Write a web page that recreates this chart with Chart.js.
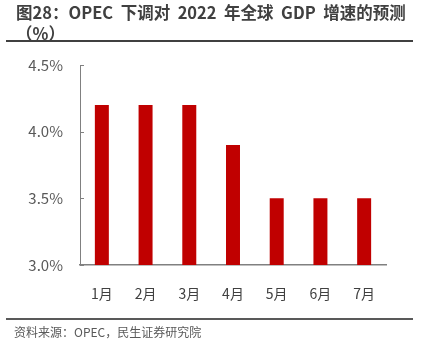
<!DOCTYPE html>
<html>
<head>
<meta charset="utf-8">
<script src="https://cdn.jsdelivr.net/npm/chart.js@4/dist/chart.umd.min.js"></script>
<style>
  body { margin: 0; background: #fff; }
  #wrap { position: relative; width: 421px; height: 353px; overflow: hidden; }
  #title { position: absolute; left: 16px; top: 2px; font: bold 16.5px "Noto Sans CJK SC", sans-serif; color: #404040; line-height: 21px; white-space: pre; }
  #rule1 { position: absolute; left: 6px; top: 40px; width: 407px; height: 2px; background: #404040; }
  #rule2 { position: absolute; left: 6px; top: 318px; width: 407px; height: 2px; background: #595959; }
  #source { position: absolute; left: 14px; top: 323px; font: 12px "Noto Sans CJK SC", sans-serif; color: #595959; }
  canvas { position: absolute; left: 0; top: 0; }
</style>
</head>
<body>
<div id="wrap">
  <canvas id="gdpChart" width="421" height="353"></canvas>
  <div id="title">图28：OPEC  下调对  2022  年全球  GDP  增速的预测
（%）</div>
  <div id="rule1"></div>
  <div id="rule2"></div>
  <div id="source">资料来源：OPEC，民生证券研究院</div>
</div>
<script>
const months = ['1月', '2月', '3月', '4月', '5月', '6月', '7月'];
const gdpForecast = [4.2, 4.2, 4.2, 3.9, 3.5, 3.5, 3.5];
const yTicks = [3.0, 3.5, 4.0, 4.5];

// small tick marks on the inside of the y axis
const innerTicks = {
    id: 'innerTicks',
    afterDraw(chart) {
        const y = chart.scales.y;
        const ctx = chart.ctx;
        ctx.save();
        ctx.strokeStyle = '#808080';
        ctx.lineWidth = 1;
        yTicks.forEach(function(v) {
            const py = Math.round(y.getPixelForValue(v)) + 0.5;
            ctx.beginPath();
            ctx.moveTo(chart.chartArea.left, py);
            ctx.lineTo(chart.chartArea.left + 4, py);
            ctx.stroke();
        });
        ctx.restore();
    }
};

new Chart(document.getElementById('gdpChart').getContext('2d'), {
    type: 'bar',
    data: {
        labels: months,
        datasets: [{
            data: gdpForecast,
            backgroundColor: '#c00000',
            barPercentage: 0.32,
            categoryPercentage: 1
        }]
    },
    options: {
        responsive: false,
        animation: false,
        layout: { padding: { top: 65, right: 35, bottom: 38, left: 0 } },
        plugins: { legend: { display: false }, tooltip: { enabled: false } },
        scales: {
            x: {
                afterFit: function(s) { s.height = 50; },
                grid: { display: false, drawTicks: false },
                border: { color: '#808080', width: 1.5 },
                ticks: { color: '#404040', padding: 20, font: { family: 'Noto Sans CJK SC', size: 14 } }
            },
            y: {
                min: 3, max: 4.5,
                afterFit: function(s) { s.width = 80; },
                afterBuildTicks: function(s) { s.ticks = yTicks.map(function(v) { return { value: v }; }); },
                grid: { display: false, drawTicks: false },
                border: { color: '#808080', width: 1 },
                ticks: {
                    color: '#595959', padding: 17,
                    font: { family: 'Noto Sans CJK SC', size: 15 },
                    callback: function(v) { return v.toFixed(1) + '%'; }
                }
            }
        }
    },
    plugins: [innerTicks]
});
</script>
</body>
</html>
